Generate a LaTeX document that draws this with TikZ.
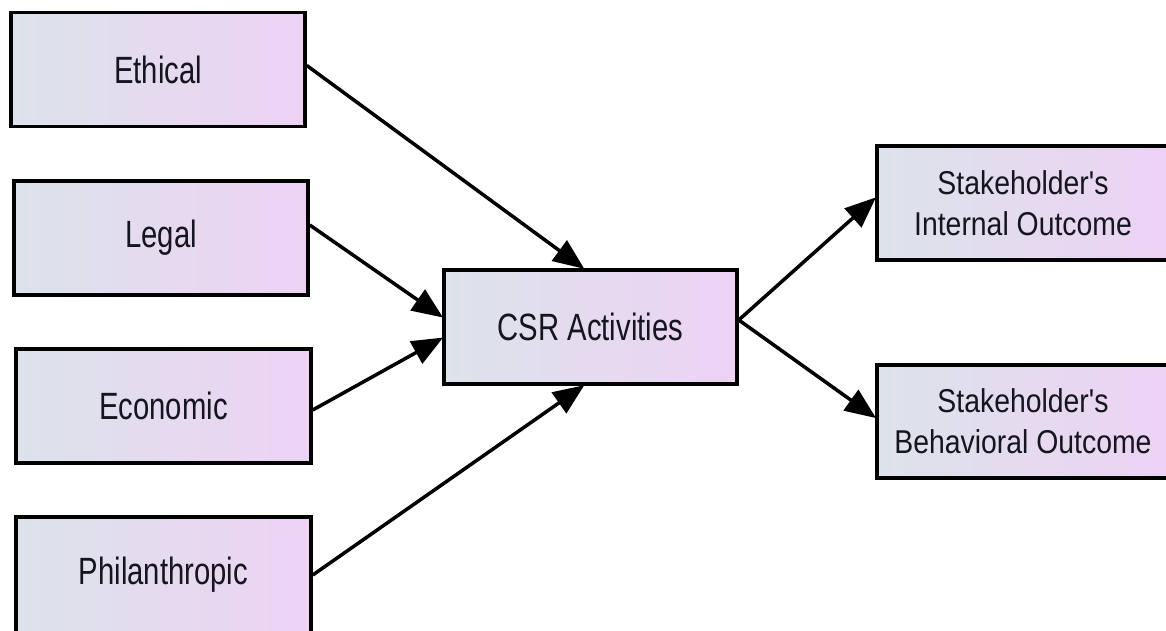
\documentclass[tikz,border=0pt]{standalone}
\usepackage{fontspec}
\setmainfont{Liberation Sans}
\usetikzlibrary{arrows.meta,calc}
\newcommand{\nar}[1]{\scalebox{0.77}[1]{#1}}
\newcommand{\narb}[1]{\scalebox{0.86}[1]{#1}}
\definecolor{boxleft}{HTML}{DCE3EA}
\definecolor{boxright}{HTML}{EDD2F4}
\definecolor{txt}{HTML}{15151F}
\tikzset{
  fbox/.style={draw=black, line width=3.5pt, left color=boxleft, right color=boxright,
    minimum width=294pt, minimum height=114pt, inner sep=0pt, text=txt,
    font=\fontsize{38}{42}\selectfont, align=center},
  fbox2/.style={fbox, font=\fontsize{33}{41}\selectfont},
  conn/.style={line width=3.5pt, draw=black, -{Triangle[length=31pt,width=25pt]}, shorten >=-1pt}
}
\begin{document}
\begin{tikzpicture}[x=1pt,y=-1pt]
\useasboundingbox (0,0) rectangle (1166,630);
\clip (0,0) rectangle (1166,630);
\fill[white] (0,0) rectangle (1166,630);
\node[fbox] (eth) at (158,69.5) {\nar{Ethical}};
\node[fbox] (leg) at (161,238) {\nar{Legal}};
\node[fbox, minimum width=295pt] (eco) at (163.5,406) {\nar{Economic}};
\node[fbox, minimum width=295pt, minimum height=116pt] (phi) at (163.5,575) {\nar{Philanthropic}};
\node[fbox, minimum width=293pt] (csr) at (590.5,327) {\nar{CSR Activities}};
\node[fbox2, minimum width=292pt] (int) at (1023,203) {\narb{Stakeholder\textquotesingle s}\\\narb{Internal Outcome}};
\node[fbox2, minimum width=292pt, minimum height=113pt] (beh) at (1023,421.5) {\narb{Stakeholder\textquotesingle s}\\\narb{Behavioral Outcome}};
\draw[conn] ([yshift=4pt]eth.east) -- ([xshift=-7pt]csr.north);
\draw[conn] ([yshift=13pt]leg.east) -- ([yshift=10pt]csr.west);
\draw[conn] ([yshift=-4pt]eco.east) -- ([yshift=-11pt]csr.west);
\draw[conn] (phi.east) -- ([xshift=-7pt]csr.south);
\draw[conn] ([yshift=7pt]csr.east) -- ([yshift=5pt]int.west);
\draw[conn] ([yshift=7pt]csr.east) -- ([yshift=4pt]beh.west);
\end{tikzpicture}
\end{document}
